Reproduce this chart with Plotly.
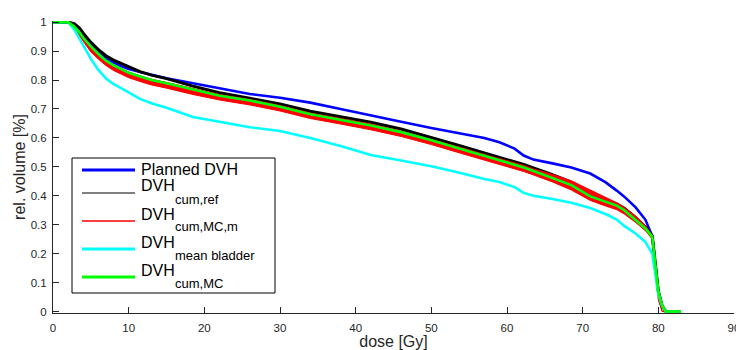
import plotly.graph_objects as go

# ---------------- data ----------------
dose = [0, 2, 2.8, 3.5, 4, 5, 6, 7, 8, 9, 10, 11.5, 13, 15, 18.5, 22, 26, 30, 34, 38,
        42, 46, 50, 54, 57, 59, 61, 62.2, 63.5, 66, 68.5, 71, 73, 74.5, 75.5, 77, 78.3,
        79.2, 80, 80.5, 81, 83]

planned_dvh = [1, 1, 0.99, 0.965, 0.95, 0.92, 0.895, 0.875, 0.86, 0.848, 0.838, 0.828,
               0.818, 0.806, 0.789, 0.772, 0.752, 0.739, 0.722, 0.700, 0.679, 0.656, 0.634,
               0.616, 0.600, 0.585, 0.563, 0.539, 0.525, 0.512, 0.498, 0.477, 0.447, 0.418,
               0.397, 0.360, 0.317, 0.260, 0.07, 0.02, 0, 0]

dvh_cum_ref = [1, 1, 0.995, 0.98, 0.962, 0.93, 0.905, 0.884, 0.869, 0.857, 0.846, 0.829,
               0.817, 0.805, 0.779, 0.756, 0.737, 0.717, 0.692, 0.673, 0.654, 0.631, 0.602,
               0.571, 0.548, 0.533, 0.518, 0.508, 0.496, 0.473, 0.447, 0.405, 0.386, 0.372,
               0.357, 0.325, 0.292, 0.262, 0.07, 0.02, 0, 0]

dvh_mc_m_upper = [1, 1, 0.988, 0.968, 0.948, 0.918, 0.892, 0.868, 0.853, 0.84, 0.828, 0.815,
                  0.803, 0.792, 0.77, 0.75, 0.733, 0.712, 0.686, 0.667, 0.648, 0.624, 0.596,
                  0.566, 0.543, 0.529, 0.514, 0.505, 0.493, 0.474, 0.452, 0.42, 0.393, 0.376,
                  0.36, 0.33, 0.297, 0.262, 0.06, 0.0, 0, 0]

dvh_mc_m_lower = [1, 1, 0.978, 0.952, 0.93, 0.897, 0.872, 0.85, 0.833, 0.82, 0.808, 0.795,
                  0.783, 0.772, 0.75, 0.731, 0.714, 0.693, 0.667, 0.648, 0.628, 0.605, 0.577,
                  0.546, 0.524, 0.51, 0.494, 0.484, 0.472, 0.448, 0.42, 0.384, 0.365, 0.352,
                  0.337, 0.308, 0.279, 0.25, 0.04, 0.0, 0, 0]

dvh_mean_bladder = [1, 1, 0.975, 0.945, 0.92, 0.873, 0.835, 0.805, 0.786, 0.772, 0.757, 0.735,
                    0.72, 0.704, 0.672, 0.655, 0.637, 0.624, 0.600, 0.572, 0.541, 0.522, 0.502,
                    0.478, 0.458, 0.448, 0.43, 0.41, 0.40, 0.389, 0.376, 0.358, 0.337, 0.318,
                    0.296, 0.27, 0.24, 0.20, 0.06, 0.02, 0, 0]

dvh_cum_mc = [1, 1, 0.985, 0.965, 0.946, 0.916, 0.89, 0.867, 0.851, 0.838, 0.825, 0.812,
              0.800, 0.789, 0.767, 0.746, 0.729, 0.708, 0.682, 0.663, 0.643, 0.620, 0.592,
              0.561, 0.538, 0.524, 0.508, 0.498, 0.486, 0.462, 0.437, 0.398, 0.380, 0.366,
              0.350, 0.318, 0.287, 0.258, 0.07, 0.02, 0, 0]

x_ticks = [0, 10, 20, 30, 40, 50, 60, 70, 80, 90]
y_ticks = [0, 0.1, 0.2, 0.3, 0.4, 0.5, 0.6, 0.7, 0.8, 0.9, 1]

legend_main = ["Planned DVH", "DVH", "DVH", "DVH", "DVH"]
legend_sub = ["", "cum,ref", "cum,MC,m", "mean bladder", "cum,MC"]

# ---------------- styling ----------------
BLUE, BLACK, RED, CYAN, GREEN = "#0000ff", "#000000", "#ff0000", "#00ffff", "#00ff00"
FONT = "Liberation Sans, Arial, Helvetica, sans-serif"
PAGE_OFF = 8                      # default body margin of the html page
W, H = 744 - PAGE_OFF, 350 - PAGE_OFF
L = 53 - PAGE_OFF                 # plot area left edge at page x = 53
T = 21 - PAGE_OFF                 # plot area top at page y = 21
R = W - (734 - PAGE_OFF)          # plot area right at page x = 734
B = H - (313 - PAGE_OFF)          # plot area bottom at page y = 313
PW, PH = W - L - R, H - T - B


def px_x(px):
    return (px - PAGE_OFF - L) / PW


def px_y(py):
    return (T + PH - (py - PAGE_OFF)) / PH


fig = go.Figure()
fig.add_trace(go.Scatter(x=dose, y=planned_dvh, mode="lines", name="Planned DVH",
                         line=dict(color=BLUE, width=2.6), showlegend=False))
fig.add_trace(go.Scatter(x=dose, y=dvh_cum_ref, mode="lines", name="DVH cum,ref",
                         line=dict(color=BLACK, width=3), showlegend=False))
fig.add_trace(go.Scatter(x=dose, y=dvh_mc_m_lower, mode="lines", name="DVH cum,MC,m (low)",
                         line=dict(color=RED, width=1), showlegend=False))
fig.add_trace(go.Scatter(x=dose, y=dvh_mc_m_upper, mode="lines", name="DVH cum,MC,m",
                         line=dict(color=RED, width=1), fill="tonexty",
                         fillcolor=RED, showlegend=False))
fig.add_trace(go.Scatter(x=dose, y=dvh_mean_bladder, mode="lines", name="DVH mean bladder",
                         line=dict(color=CYAN, width=2.6), showlegend=False))
fig.add_trace(go.Scatter(x=dose, y=dvh_cum_mc, mode="lines", name="DVH cum,MC",
                         line=dict(color=GREEN, width=2.6), showlegend=False))

axis_common = dict(showline=True, linecolor="#262626", linewidth=1, ticks="inside",
                   ticklen=6, tickcolor="#262626", tickwidth=1, showgrid=False,
                   zeroline=False, mirror=False,
                   tickfont=dict(family=FONT, size=11.5, color="#262626"))

fig.update_xaxes(range=[0, 90], tickvals=x_ticks, ticklabelstandoff=4,
                 title=dict(text="dose [Gy]", font=dict(family=FONT, size=16, color="#262626"),
                            standoff=2),
                 **axis_common)
fig.update_yaxes(range=[-0.005, 1.004], tickvals=y_ticks, ticklabelstandoff=3,
                 title=dict(text="rel. volume [%]", font=dict(family=FONT, size=16, color="#262626"),
                            standoff=1),
                 **axis_common)

# ---------------- legend (drawn manually to match MATLAB layout) ----------------
shapes = [dict(type="rect", xref="paper", yref="paper",
               x0=px_x(72), x1=px_x(275), y0=px_y(293), y1=px_y(158),
               line=dict(color="#000000", width=1), fillcolor="white", layer="above")]
annotations = []
entry_y = [170, 193, 221, 249, 277]
entry_col = [BLUE, BLACK, RED, CYAN, GREEN]
entry_w = [3, 1, 1.5, 3, 3]
for i in range(5):
    y = entry_y[i]
    shapes.append(dict(type="line", xref="paper", yref="paper",
                       x0=px_x(82), x1=px_x(135), y0=px_y(y), y1=px_y(y),
                       line=dict(color=entry_col[i], width=entry_w[i]), layer="above"))
    if legend_sub[i]:
        annotations.append(dict(xref="paper", yref="paper", x=px_x(139), y=px_y(y - 7),
                                xanchor="left", yanchor="middle", showarrow=False,
                                text=legend_main[i],
                                font=dict(family=FONT, size=16, color="#000000")))
        annotations.append(dict(xref="paper", yref="paper", x=px_x(173), y=px_y(y + 6),
                                xanchor="left", yanchor="middle", showarrow=False,
                                text=legend_sub[i],
                                font=dict(family=FONT, size=13, color="#000000")))
    else:
        annotations.append(dict(xref="paper", yref="paper", x=px_x(139), y=px_y(y - 1),
                                xanchor="left", yanchor="middle", showarrow=False,
                                text=legend_main[i],
                                font=dict(family=FONT, size=16, color="#000000")))

fig.update_layout(width=W, height=H, margin=dict(l=L, r=R, t=T, b=B, autoexpand=False),
                  paper_bgcolor="white", plot_bgcolor="white", showlegend=False,
                  shapes=shapes, annotations=annotations)

fig.write_html("out.html")
